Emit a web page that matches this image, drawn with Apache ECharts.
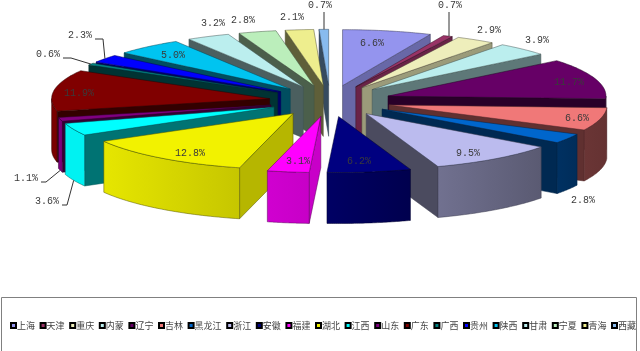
<!DOCTYPE html>
<html>
<head>
<meta charset="utf-8">
<style>
  html, body { margin: 0; padding: 0; background: #fff; }
  #chart { width: 640px; height: 351px; }
</style>
<script src="https://cdn.jsdelivr.net/npm/echarts@6/dist/echarts.min.js"></script>
</head>
<body>
<div id="chart"></div>
<script>
const provinces = ['上海', '天津', '重庆', '内蒙', '辽宁', '吉林', '黑龙江', '浙江', '安徽', '福建', '湖北', '江西', '山东', '广东', '广西', '贵州', '陕西', '甘肃', '宁夏', '青海', '西藏']
const shares = [6.6, 0.7, 2.9, 3.9, 11.7, 6.6, 2.8, 9.5, 6.2, 3.1, 12.8, 3.6, 1.1, 11.9, 0.6, 2.3, 5.0, 3.2, 2.8, 2.1, 0.7]
const colors = ['#9494ee', '#993366', '#eeeebb', '#bbeeee', '#660066', '#f07878', '#0066cc', '#bbbbee', '#000080', '#ff00ff', '#f2f200', '#00ffff', '#800080', '#800000', '#008080', '#0000ff', '#00c4f0', '#bbeeee', '#bbeebb', '#eeee8e', '#88bbee']

// hand placed text, same as the original sheet
const labelSpots = [[372, 43], [450, 5], [489, 30], [537, 40], [569, 82], [577, 118], [583, 200], [468, 153], [359, 161], [298, 161], [190, 153], [47, 201], [26, 178], [79, 93], [48, 54], [80, 35], [173, 55], [213, 23], [243, 20], [292, 17], [320, 5]]
const leaders = { 天津: 'up', 西藏: 'up', 贵州: 'left', 广西: 'left', 江西: 'leftLow', 山东: 'leftLow' }

const CX = 330, CY = 101, RX = 218, RY = 56, DEPTH = 51, EXPLODE = 0.28
const total = shares.reduce((s, v) => s + v, 0)
const rad = (pct) => (pct / total) * Math.PI * 2
const starts = shares.map((_, i) => shares.slice(0, i).reduce((s, v) => s + v, 0))

function shade(hex, k) {
  const n = parseInt(hex.slice(1), 16)
  const c = [n >> 16, (n >> 8) & 255, n & 255].map((v) => Math.round(v * k))
  return `rgb(${c.join(',')})`
}

function lerpTable(table, x) {
  if (x <= table[0][0]) return table[0][1]
  for (let i = 1; i < table.length; i++) {
    if (x <= table[i][0]) {
      const [x0, y0] = table[i - 1]
      const [x1, y1] = table[i]
      return y0 + ((y1 - y0) * (x - x0)) / (x1 - x0)
    }
  }
  return table[table.length - 1][1]
}
const arcShade = [[110, 0.42], [160, 0.6], [183, 0.78], [195, 0.82], [240, 0.95], [270, 0.95]]
const wallShade = [[20, 0.35], [60, 0.5], [95, 0.8], [114, 0.7], [127, 0.65], [141, 0.5], [160, 0.4], [360, 0.4]]

function renderSlice(params, api) {
  const i = params.seriesIndex
  const base = colors[i]
  const s = rad(api.value(0))
  const t = s + rad(api.value(1))
  const mid = (s + t) / 2
  const ax = CX + EXPLODE * RX * Math.sin(mid)
  const ay = CY - EXPLODE * RY * Math.cos(mid)
  const rim = (a) => [ax + RX * Math.sin(a), ay - RY * Math.cos(a)]
  const down = (p) => [p[0], p[1] + DEPTH]
  const line = shade(base, 0.35)
  const face = (points, fill) => ({ type: 'polygon', shape: { points }, style: { fill, stroke: line, lineWidth: 0.5 } })
  const deg = (a) => (a * 180) / Math.PI

  const children = []
  const apex = [ax, ay]
  const wall = (a, normal) => {
    // only the cut faces turned toward the viewer show
    if (Math.cos((normal * Math.PI) / 180) >= 0) return
    const k = lerpTable(wallShade, ((normal % 360) + 360) % 360)
    children.push(face([apex, rim(a), down(rim(a)), down(apex)], shade(base, k)))
  }
  wall(s, deg(s) - 90)
  wall(t, deg(t) + 90)

  const from = Math.max(s, Math.PI / 2)
  const to = Math.min(t, Math.PI * 1.5)
  if (to > from) {
    const top = []
    for (let k = 0; k <= 40; k++) top.push(rim(from + ((to - from) * k) / 40))
    const bottom = top.map(down).reverse()
    children.push(face(top.concat(bottom), new echarts.graphic.LinearGradient(0, 0, 1, 0, [
      { offset: 0, color: shade(base, lerpTable(arcShade, deg(to))) },
      { offset: 1, color: shade(base, lerpTable(arcShade, deg(from))) },
    ])))
  }

  const cap = [apex]
  for (let k = 0; k <= 40; k++) cap.push(rim(s + ((t - s) * k) / 40))
  children.push(face(cap, base))

  const [lx, ly] = labelSpots[i]
  const kind = leaders[provinces[i]]
  if (kind) {
    const edge = rim(mid)
    let pts
    if (kind === 'up') pts = [[lx + (i === 1 ? -1 : 4), ly + 7], [lx + (i === 1 ? -1 : 4), edge[1]]]
    if (kind === 'left') pts = [[lx + 15, ly + 4], [lx + 23, ly + 4], edge]
    if (kind === 'leftLow') pts = [[lx + 15, ly + 4], [lx + 20, ly + 4], down(edge)]
    children.push({ type: 'polyline', shape: { points: pts }, style: { fill: null, stroke: '#333', lineWidth: 1 } })
  }
  children.push({
    type: 'text',
    style: {
      x: lx,
      y: ly,
      text: api.value(1).toFixed(1) + '%',
      font: '10px "Liberation Mono", monospace',
      fill: '#3a3a3a',
      textAlign: 'center',
      textVerticalAlign: 'middle',
    },
  })
  return { type: 'group', children }
}

// far slices first, so the near ones sit on top
const depthRank = shares.map((v, i) => Math.cos(rad(starts[i] + v / 2)))
const order = depthRank.map((d, i) => [d, i]).sort((a, b) => b[0] - a[0]).map((p) => p[1])

const chart = echarts.init(document.getElementById('chart'), null, { renderer: 'canvas' })
chart.setOption({
  animation: false,
  backgroundColor: '#fff',
  legend: {
    data: provinces,
    left: 10,
    top: 321,
    width: 630,
    icon: 'rect',
    itemWidth: 5,
    itemHeight: 5,
    itemGap: 4.6,
    selectedMode: false,
    padding: 0,
    textStyle: { fontFamily: '"Noto Sans CJK SC"', fontSize: 9, color: '#444', padding: [0, 0, 0, -4] },
  },
  graphic: [
    { type: 'rect', shape: { x: 1.5, y: 297.5, width: 635, height: 70 }, style: { fill: 'none', stroke: '#808080', lineWidth: 1 }, silent: true },
  ],
  series: provinces.map((name, i) => ({
    type: 'custom',
    name,
    coordinateSystem: 'none',
    z: 5 + order.indexOf(i),
    silent: true,
    itemStyle: { color: colors[i], borderColor: '#000', borderWidth: 1 },
    renderItem: renderSlice,
    data: [[starts[i], shares[i]]],
  })),
})
window.addEventListener('resize', () => chart.resize())
</script>
</body>
</html>
